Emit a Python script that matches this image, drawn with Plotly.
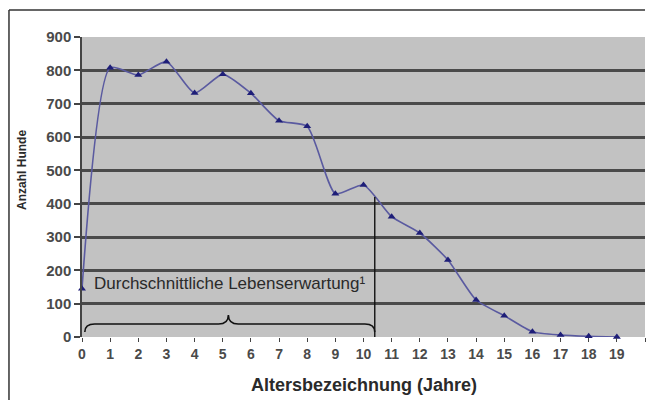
import plotly.graph_objects as go

ages = list(range(20))
dogs = [145, 808, 786, 826, 732, 788, 731, 649, 632, 430, 456, 361, 312, 231, 111, 64, 16, 6, 2, 0]
x_ticks = list(range(21))
y_ticks = list(range(0, 1000, 100))

life_expectancy = 10.4
brace_start = 0.1
brace_mid = 5.2
brace_low, brace_high, brace_tip = 15, 39, 66
line_top = 420
label_text = "Durchschnittliche Lebenserwartung¹"

fig = go.Figure()
fig.add_trace(go.Scatter(
    x=ages, y=dogs, mode="lines+markers",
    line=dict(color="#5a5aa0", width=1.6, shape="spline", smoothing=0.6),
    marker=dict(symbol="triangle-up", size=7, color="#1e1e78"),
    showlegend=False, cliponaxis=False))

d = 0.35
path = (f"M {brace_start},{brace_low} Q {brace_start},{brace_high} {brace_start+d},{brace_high} "
        f"L {brace_mid-d},{brace_high} Q {brace_mid},{brace_high} {brace_mid},{brace_tip} "
        f"Q {brace_mid},{brace_high} {brace_mid+d},{brace_high} "
        f"L {life_expectancy-d},{brace_high} Q {life_expectancy},{brace_high} {life_expectancy},{brace_low}")
fig.add_shape(type="path", path=path, xref="x", yref="y", line=dict(color="#111", width=1.6))
fig.add_shape(type="line", x0=life_expectancy, x1=life_expectancy, y0=0, y1=line_top,
              xref="x", yref="y", line=dict(color="#111", width=1.4))
fig.add_annotation(x=brace_mid + 0.05, y=162, xref="x", yref="y", text=label_text, showarrow=False,
                   xanchor="center", yanchor="middle",
                   font=dict(family="Liberation Sans, Arial, sans-serif", size=17, color="#2a2a2a"))

# outer frame (top and left edges; the rest lies outside the picture)
fig.add_shape(type="line", xref="paper", yref="paper", x0=-0.1297, x1=1.0, y0=1.09, y1=1.09,
              line=dict(color="#333", width=1.5))
fig.add_shape(type="line", xref="paper", yref="paper", x0=-0.1297, x1=-0.1297, y0=-0.21, y1=1.09,
              line=dict(color="#333", width=1.5))

fig.add_annotation(x=-0.1066, y=0.557, xref="paper", yref="paper", text="Anzahl Hunde", textangle=-90,
                   showarrow=False, xanchor="center", yanchor="middle",
                   font=dict(family="Liberation Sans, Arial, sans-serif", size=12, color="#2a2a2a", weight="bold"))
fig.add_annotation(x=0.5, y=-0.16, xref="paper", yref="paper", text="Altersbezeichnung (Jahre)",
                   showarrow=False, xanchor="center", yanchor="middle",
                   font=dict(family="Liberation Sans, Arial, sans-serif", size=18, color="#2a2a2a", weight="bold"))

fig.update_xaxes(range=[0, 20], tickvals=x_ticks, ticktext=[str(v) for v in x_ticks],
                 showgrid=False, zeroline=False, showline=False, automargin=False,
                 ticks="outside", ticklen=4, tickcolor="#444",
                 tickfont=dict(family="Liberation Sans, Arial, sans-serif", size=14, color="#4a4a4a", weight="bold"))
fig.update_yaxes(range=[0, 900], tickvals=y_ticks, showgrid=True, gridcolor="#4a4a4a", gridwidth=2.5,
                 zeroline=False, showline=True, linecolor="#444", linewidth=1.5, automargin=False,
                 ticks="outside", ticklen=6, tickcolor="#444", tickwidth=2,
                 tickfont=dict(family="Liberation Sans, Arial, sans-serif", size=15, color="#4a4a4a", weight="bold"))

fig.update_layout(width=646, height=400, margin=dict(l=82, r=1, t=37, b=63, autoexpand=False),
                  plot_bgcolor="#c2c2c2", paper_bgcolor="white")
fig.write_html("out.html", config={"responsive": False, "displayModeBar": False},
               post_script="document.documentElement.style.overflow='hidden';document.body.style.overflow='hidden';document.body.style.margin='0';")
